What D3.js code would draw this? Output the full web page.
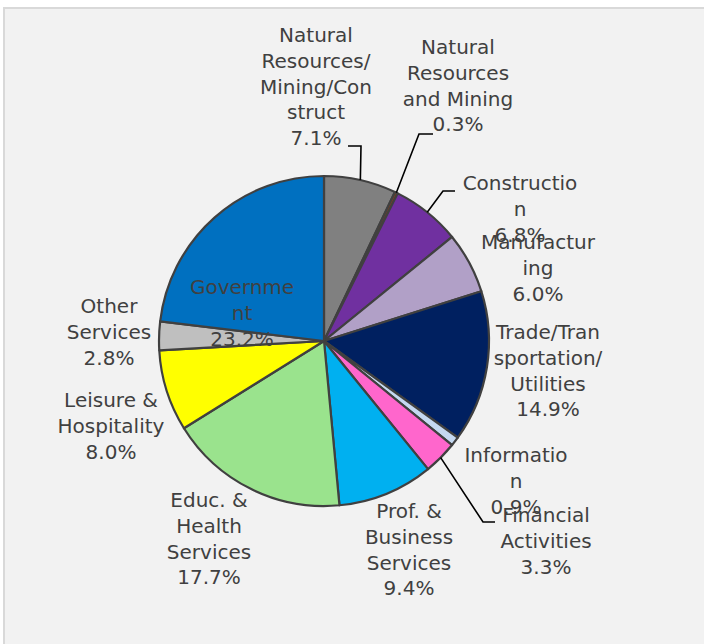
<!DOCTYPE html>
<html><head><meta charset="utf-8">
<script src="https://cdn.jsdelivr.net/npm/d3@7"></script>
<style>html,body{margin:0;padding:0;background:#fff;overflow:hidden}</style>
</head><body><svg id="c" width="704" height="644"></svg>
<script>
const categories = [
  ["Natural","Resources/","Mining/Con","struct"],
  ["Natural","Resources","and Mining"],
  ["Constructio","n"],
  ["Manufactur","ing"],
  ["Trade/Tran","sportation/","Utilities"],
  ["Informatio","n"],
  ["Financial","Activities"],
  ["Prof. &","Business","Services"],
  ["Educ. &","Health","Services"],
  ["Leisure &","Hospitality"],
  ["Other","Services"],
  ["Governme","nt"]
];
const values = [7.1, 0.3, 6.8, 6.0, 14.9, 0.9, 3.3, 9.4, 17.7, 8.0, 2.8, 23.2];
const colors = ["#808080","#7F3F1F","#7030A0","#B1A0C7","#002060","#C5D9F1","#FF66CC","#00B0F0","#9AE38D","#FFFF00","#BFBFBF","#0070C0"];

// layout (label centres: x, y of first line) and leader flags
const labelPos = [[316,35],[458,47],[520,183],[538,242],[548,332],[516,455],[546,515],[409,511],[209,500],[111,400],[109,306],[242,287]];
const leaders = {0:[[361,146],[348,146]], 1:[[419,134],[433,134]], 2:[[443,191],[455,191]], 6:[[483,522],[495,522]]};

const svg = d3.select("#c");
svg.append("rect").attr("x",4).attr("y",8).attr("width",740).attr("height",700)
  .attr("fill","#f2f2f2").attr("stroke","#d9d9d9").attr("stroke-width",2);

const cx = 324, cy = 341, r = 165;
const g = svg.append("g").attr("transform",`translate(${cx},${cy})`);
const pie = d3.pie().sort(null).value(d=>d);
const arcs = pie(values);
const arc = d3.arc().innerRadius(0).outerRadius(r);

g.selectAll("path.s").data(arcs).join("path").attr("class","s")
  .attr("d",arc).attr("fill",(d,i)=>colors[i])
  .attr("stroke","#404040").attr("stroke-width",2.2).attr("stroke-linejoin","round");

// leader lines
arcs.forEach((a,i)=>{
  if(!leaders[i]) return;
  const m = (a.startAngle+a.endAngle)/2;
  const p0 = [cx + r*Math.sin(m), cy - r*Math.cos(m)];
  const pts = [p0].concat(leaders[i]);
  svg.append("path").attr("d", d3.line()(pts)).attr("fill","none")
    .attr("stroke","#000").attr("stroke-width",1.6);
});

const fmt = d3.format(".1f");
const lh = 25.7;
arcs.forEach((a,i)=>{
  const lines = categories[i].concat([fmt(values[i])+"%"]);
  const t = svg.append("text").attr("text-anchor","middle")
    .attr("font-family","DejaVu Sans").attr("font-size","20px").attr("fill","#404040");
  lines.forEach((s,j)=>{
    t.append("tspan").attr("x",labelPos[i][0]).attr("y",labelPos[i][1]+j*lh).attr("dy","0.36em").text(s);
  });
});
</script></body></html>
